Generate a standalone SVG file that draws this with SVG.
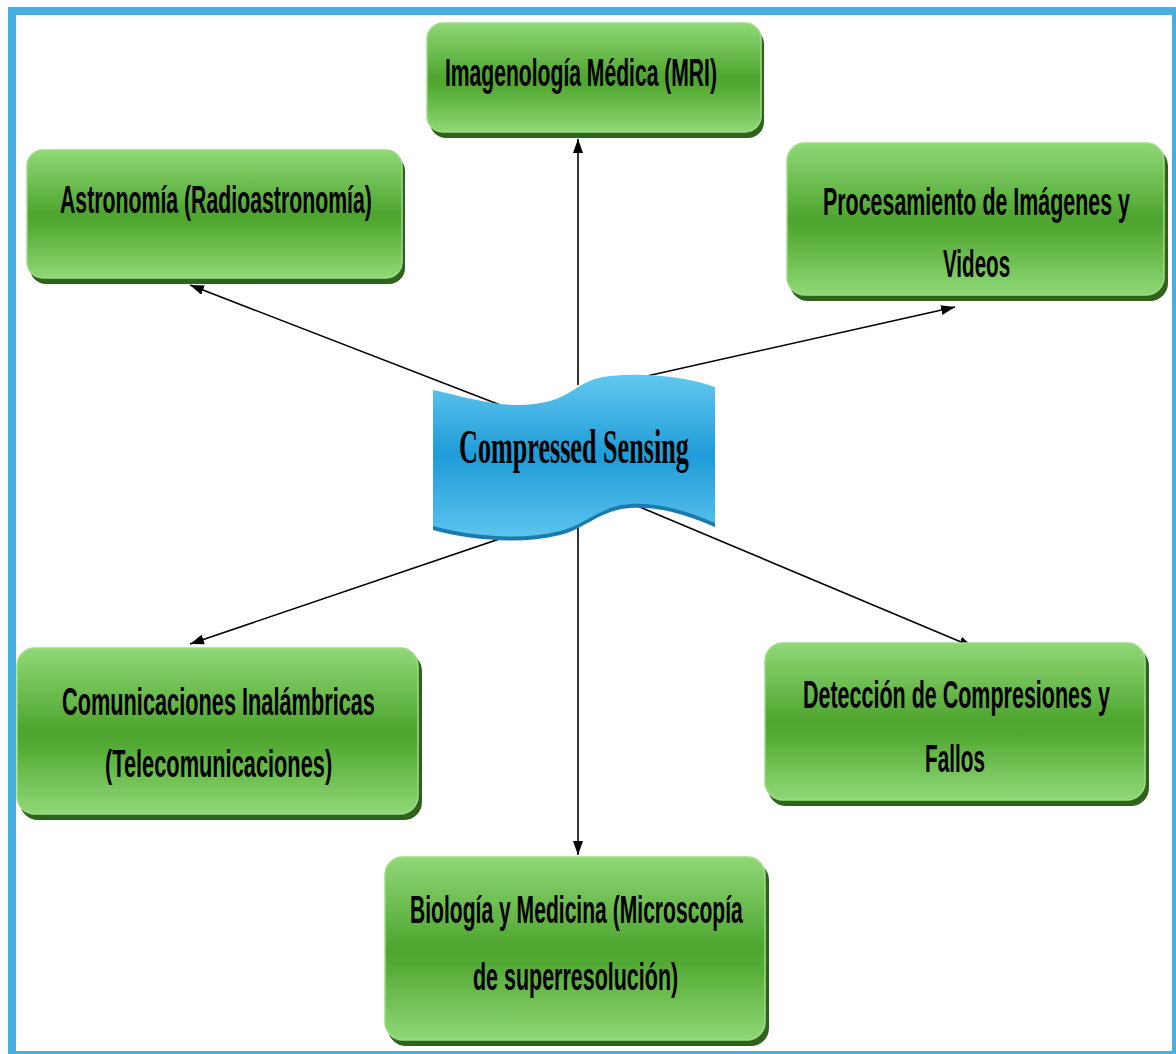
<svg xmlns="http://www.w3.org/2000/svg" width="1176" height="1054" viewBox="0 0 1176 1054">
<style>
.box{fill:url(#g);stroke:#9fdc86;stroke-width:1.5}
.shd{fill:#2f621d}
.t{font-family:"Liberation Sans",Arial,sans-serif;font-weight:bold;font-size:39px;fill:#000;text-anchor:start}
.c{stroke:#000;stroke-width:1.6;fill:none;marker-end:url(#ah)}
</style>
<defs>
<linearGradient id="g" x1="0" y1="0" x2="0" y2="1">
<stop offset="0" stop-color="#8fd876"/>
<stop offset="0.5" stop-color="#4ea52f"/>
<stop offset="0.58" stop-color="#53aa33"/>
<stop offset="1" stop-color="#8fd876"/>
</linearGradient>
<linearGradient id="b" x1="0" y1="0" x2="0" y2="1">
<stop offset="0" stop-color="#62c8f0"/>
<stop offset="0.5" stop-color="#1f9bd7"/>
<stop offset="1" stop-color="#5cc4ee"/>
</linearGradient>
<marker id="ah" viewBox="0 0 14 10" refX="14" refY="5" markerWidth="14" markerHeight="10" orient="auto" markerUnits="userSpaceOnUse">
<path d="M0,0 L14,5 L0,10 z" fill="#000"/>
</marker>
</defs>
<rect x="0" y="0" width="1176" height="1054" fill="#fff"/>
<rect x="12" y="11" width="1164" height="1044" fill="none" stroke="#46b0e0" stroke-width="8"/>

<g id="connectors">
<line class="c" x1="578" y1="385" x2="578" y2="139"/>
<line class="c" x1="508" y1="408" x2="190" y2="285"/>
<line class="c" x1="647" y1="376" x2="955" y2="307"/>
<line class="c" x1="517" y1="533" x2="190" y2="644"/>
<line class="c" x1="635" y1="505" x2="973" y2="647"/>
<line class="c" x1="578" y1="525" x2="578" y2="855"/>
</g>

<g id="center">
<path d="M433,390 C470,398 510,412 550,401 C575,394 580,379 610,376 C650,372 690,378 715,387 L715,523 C690,512 660,502 630,504 C600,506 585,525 560,531 C520,541 470,536 433,526 Z" fill="#1a7cae" transform="translate(0,4)"/>
<path d="M433,390 C470,398 510,412 550,401 C575,394 580,379 610,376 C650,372 690,378 715,387 L715,523 C690,512 660,502 630,504 C600,506 585,525 560,531 C520,541 470,536 433,526 Z" fill="url(#b)"/>
<text transform="translate(459,463) scale(0.6,1)" font-family="Liberation Serif,'Times New Roman',serif" font-weight="bold" font-size="48" textLength="383" lengthAdjust="spacingAndGlyphs">Compressed Sensing</text>
</g>

<g id="n-mri">
<rect class="shd" x="430" y="28" width="334" height="110" rx="16"/>
<rect class="box" x="427" y="23" width="334" height="109" rx="16"/>
<text class="t" transform="translate(445,86) scale(0.55,1)" textLength="494.5" lengthAdjust="spacingAndGlyphs">Imagenología Médica (MRI)</text>
</g>

<g id="n-astro">
<rect class="shd" x="30" y="155" width="375" height="129" rx="16"/>
<rect class="box" x="27" y="150" width="375" height="128" rx="16"/>
<text class="t" transform="translate(60,213) scale(0.55,1)" textLength="567" lengthAdjust="spacingAndGlyphs">Astronomía (Radioastronomía)</text>
</g>

<g id="n-proc">
<rect class="shd" x="790" y="148" width="378" height="153" rx="18"/>
<rect class="box" x="787" y="143" width="377" height="152" rx="18"/>
<text class="t" transform="translate(823,215) scale(0.55,1)" textLength="558" lengthAdjust="spacingAndGlyphs">Procesamiento de Imágenes y</text>
<text class="t" transform="translate(943,277) scale(0.55,1)" textLength="122" lengthAdjust="spacingAndGlyphs">Videos</text>
</g>

<g id="n-com">
<rect class="shd" x="20" y="653" width="402" height="167" rx="18"/>
<rect class="box" x="17" y="648" width="401" height="166" rx="18"/>
<text class="t" transform="translate(62,715) scale(0.55,1)" textLength="569" lengthAdjust="spacingAndGlyphs">Comunicaciones Inalámbricas</text>
<text class="t" transform="translate(105,777) scale(0.55,1)" textLength="413" lengthAdjust="spacingAndGlyphs">(Telecomunicaciones)</text>
</g>

<g id="n-det">
<rect class="shd" x="768" y="648" width="381" height="158" rx="18"/>
<rect class="box" x="765" y="643" width="380" height="157" rx="18"/>
<text class="t" transform="translate(803,708) scale(0.55,1)" textLength="558" lengthAdjust="spacingAndGlyphs">Detección de Compresiones y</text>
<text class="t" transform="translate(925,772) scale(0.55,1)" textLength="109" lengthAdjust="spacingAndGlyphs">Fallos</text>
</g>

<g id="n-bio">
<rect class="shd" x="388" y="862" width="381" height="184" rx="18"/>
<rect class="box" x="385" y="857" width="380" height="183" rx="18"/>
<text class="t" transform="translate(410,923) scale(0.55,1)" textLength="605" lengthAdjust="spacingAndGlyphs">Biología y Medicina (Microscopía</text>
<text class="t" transform="translate(473,990) scale(0.55,1)" textLength="373" lengthAdjust="spacingAndGlyphs">de superresolución)</text>
</g>
</svg>
